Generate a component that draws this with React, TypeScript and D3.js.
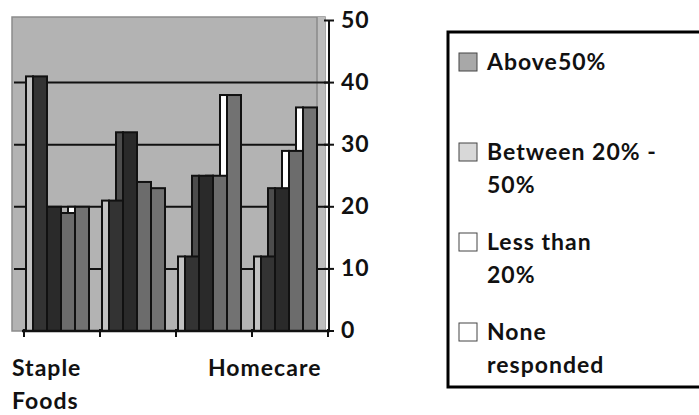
import React from "react";
import * as d3 from "d3";

const categories = ["Staple Foods", "Processed Foods", "Homecare", "Personal care"];
const shownLabels = [["Staple", "Foods"], [], ["Homecare"], []];
const seriesNames = ["Above50%", "Between 20% - 50%", "Less than 20%", "None responded"];
const above50 = [41, 21, 12, 12];
const between20to50 = [20, 32, 25, 23];
const lessThan20 = [19, 24, 25, 29];
const noneResponded = [20, 23, 38, 36];
const seriesValues = [above50, between20to50, lessThan20, noneResponded];
const yTicks = [0, 10, 20, 30, 40, 50];
const legendLines = [["Above50%"], ["Between 20% -", "50%"], ["Less than", "20%"], ["None", "responded"]];

const frontColors = ["#333333", "#2a2a2a", "#6c6c6c", "#727272"];
const stripeColors = ["#c2c2c2", "#4c4c4c", "#ffffff", "#ffffff"];
const legendColors = ["#a8a8a8", "#d8d8d8", "#ffffff", "#ffffff"];

const FONT = "Lato, 'Open Sans', sans-serif";

export default function App() {
  const W = 699, H = 415;
  const y = d3.scaleLinear().domain([0, 50]).range([331, 20.5]);
  const x = d3.scaleBand<string>().domain(categories).range([24, 328]).padding(0);
  const inner = d3.scaleBand<string>().domain(seriesNames).range([9, 65]).padding(0);
  const stripeW = 7;
  const labelOffsets = [-12, 0, 32, 0];

  return (
    <svg width={W} height={H} style={{ position: "absolute", left: 0, top: 0, background: "#fff" }}>
      {/* plot background */}
      <rect x={12} y={17} width={313} height={314} fill="#b3b3b3" stroke="#8c8c8c" strokeWidth={1.5} />
      <rect x={317} y={17} width={8} height={314} fill="#bdbdbd" />
      <line x1={317} x2={317} y1={17} y2={331} stroke="#8a8a8a" strokeWidth={1.5} />
      {/* gridlines */}
      {yTicks.filter((t) => t > 0 && t < 50).map((t) => (
        <line key={t} x1={14} x2={329} y1={y(t)} y2={y(t)} stroke="#111" strokeWidth={2} />
      ))}
      {/* bars */}
      {categories.map((c, ci) => (
        <g key={c}>
          {[3, 2, 1, 0].map((si) => {
            const v = seriesValues[si][ci];
            const fx = (x(c) ?? 0) + (inner(seriesNames[si]) ?? 0);
            const top = y(v);
            const h = y(0) - top;
            return (
              <g key={si}>
                <rect x={fx - stripeW} y={top} width={stripeW} height={h} fill={stripeColors[si]} stroke="#111" strokeWidth={2} />
                <rect x={fx} y={top} width={inner.bandwidth()} height={h} fill={frontColors[si]} stroke="#111" strokeWidth={2} />
              </g>
            );
          })}
        </g>
      ))}
      {/* x axis */}
      <line x1={22} x2={330} y1={y(0)} y2={y(0)} stroke="#111" strokeWidth={2.5} />
      {[...categories.map((c) => x(c) ?? 0), 328].map((px, i) => (
        <line key={i} x1={px} x2={px} y1={y(0) - 2} y2={y(0) + 6} stroke="#111" strokeWidth={2} />
      ))}
      {categories.map((c, ci) =>
        shownLabels[ci].map((line, li) => (
          <text key={c + li} x={(x(c) ?? 0) + labelOffsets[ci]} y={376 + li * 33} fontFamily={FONT} fontSize={23} fontWeight={700} letterSpacing={1} fill="#111">
            {line}
          </text>
        ))
      )}
      {/* y axis */}
      <line x1={329} x2={329} y1={y(50)} y2={y(0)} stroke="#111" strokeWidth={2} />
      {yTicks.map((t) => (
        <g key={t}>
          <line x1={324} x2={334} y1={y(t)} y2={y(t)} stroke="#111" strokeWidth={2} />
          <text x={341} y={y(t) + 7} fontFamily={FONT} fontSize={23} fontWeight={700} letterSpacing={1} fill="#111">
            {t}
          </text>
        </g>
      ))}
      {/* legend */}
      <rect x={448} y={32} width={300} height={355} fill="#fff" stroke="#000" strokeWidth={3} />
      {seriesNames.map((s, i) => {
        const ly = 53 + i * 90;
        return (
          <g key={s}>
            <rect x={459} y={ly} width={18} height={18} fill={legendColors[i]} stroke="#444" strokeWidth={1} />
            {legendLines[i].map((line, li) => (
              <text key={li} x={487} y={ly + 17 + li * 33} fontFamily={FONT} fontSize={23} fontWeight={700} letterSpacing={1} fill="#111">
                {line}
              </text>
            ))}
          </g>
        );
      })}
    </svg>
  );
}
